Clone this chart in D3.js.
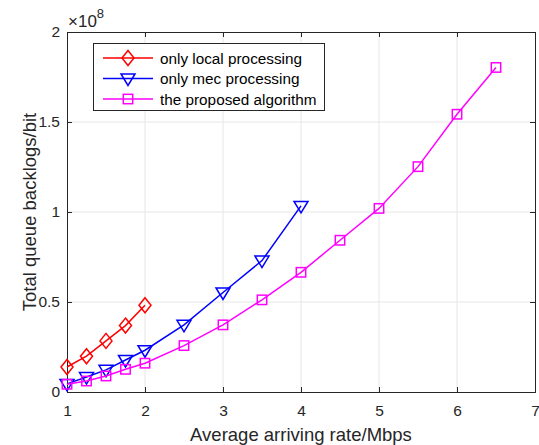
<!DOCTYPE html>
<html>
<head>
<meta charset="utf-8">
<script src="https://cdn.jsdelivr.net/npm/d3@7"></script>
<style>
  html, body { margin: 0; padding: 0; background: #fff; }
  svg { display: block; font-family: "Liberation Sans", Arial, Helvetica, sans-serif; }
</style>
</head>
<body>
<svg id="chart" width="539" height="445"></svg>
<script>
// Arrival rates (Mbps) for each scheme
const xLocal = [1, 1.25, 1.5, 1.75, 2];
const xMec = [1, 1.25, 1.5, 1.75, 2, 2.5, 3, 3.5, 4];
const xProposed = [1, 1.25, 1.5, 1.75, 2, 2.5, 3, 3.5, 4, 4.5, 5, 5.5, 6, 6.5];

// Total queue backlogs (units of 1e8 bit)
const yLocal = [0.139, 0.199, 0.284, 0.369, 0.482];
const yMec = [0.045, 0.083, 0.123, 0.178, 0.232, 0.373, 0.553, 0.730, 1.034];
const yProposed = [0.043, 0.061, 0.089, 0.126, 0.160, 0.258, 0.373, 0.512, 0.665, 0.843, 1.020, 1.252, 1.543, 1.803];

const seriesNames = ["only local processing", "only mec processing", "the proposed algorithm"];
const xTicks = [1, 2, 3, 4, 5, 6, 7];
const yTicks = [0, 0.5, 1, 1.5, 2];
const yTickLabels = ["0", "0.5", "1", "1.5", "2"];

const colors = ["#ff0000", "#0000ff", "#ff00ff"];
const markers = ["diamond", "triangle", "square"];

const svg = d3.select("#chart");
const plotLeft = 67, plotRight = 535, plotTop = 32, plotBottom = 392;

const x = d3.scaleLinear().domain([1, 7]).range([plotLeft, plotRight]);
const y = d3.scaleLinear().domain([0, 2]).range([plotBottom, plotTop]);

const axisColor = "#262626";
const gridColor = "#e6e6e6";

// grid
const grid = svg.append("g");
grid.selectAll("line.gx").data(xTicks.slice(1, -1)).join("line")
  .attr("x1", d => x(d)).attr("x2", d => x(d))
  .attr("y1", plotTop).attr("y2", plotBottom)
  .attr("stroke", gridColor).attr("stroke-width", 1);
grid.selectAll("line.gy").data(yTicks.slice(1, -1)).join("line")
  .attr("x1", plotLeft).attr("x2", plotRight)
  .attr("y1", d => y(d)).attr("y2", d => y(d))
  .attr("stroke", gridColor).attr("stroke-width", 1);

// axes (ticks inside, box on all sides)
const tickLen = 5;
const fontSize = 15.5;

const xAxis = d3.axisBottom(x).tickValues(xTicks).tickSize(-tickLen).tickPadding(13).tickFormat(d3.format("d"));
const gx = svg.append("g").attr("transform", `translate(0,${plotBottom})`).call(xAxis);
const xAxisTop = d3.axisTop(x).tickValues(xTicks).tickSize(-tickLen).tickFormat("");
const gxt = svg.append("g").attr("transform", `translate(0,${plotTop})`).call(xAxisTop);

const yAxis = d3.axisLeft(y).tickValues(yTicks).tickSize(-tickLen).tickPadding(7)
  .tickFormat((d, i) => yTickLabels[i]);
const gy = svg.append("g").attr("transform", `translate(${plotLeft},0)`).call(yAxis);
const yAxisRight = d3.axisRight(y).tickValues(yTicks).tickSize(-tickLen).tickFormat("");
const gyr = svg.append("g").attr("transform", `translate(${plotRight},0)`).call(yAxisRight);

[gx, gxt, gy, gyr].forEach(g => {
  g.selectAll("path.domain").attr("stroke", axisColor).attr("stroke-width", 1);
  g.selectAll(".tick line").attr("stroke", axisColor).attr("stroke-width", 1);
  g.selectAll(".tick text").attr("fill", axisColor).style("font-size", fontSize + "px")
    .style("font-family", "'Liberation Sans', Arial, sans-serif");
});

// exponent label
const expo = svg.append("text").attr("x", plotLeft + 1).attr("y", 27)
  .attr("fill", axisColor).style("font-size", "17px");
expo.append("tspan").text("\u00d710");
expo.append("tspan").attr("dy", -9).style("font-size", "13px").text("8");

// axis titles
svg.append("text").attr("x", (plotLeft + plotRight) / 2).attr("y", 441)
  .attr("text-anchor", "middle").attr("fill", axisColor).style("font-size", "18.5px")
  .text("Average arriving rate/Mbps");
svg.append("text").attr("transform", `translate(36,${(plotTop + plotBottom) / 2}) rotate(-90)`)
  .attr("text-anchor", "middle").attr("fill", axisColor).style("font-size", "18.5px")
  .text("Total queue backlogs/bit");

// marker drawing
function drawMarker(g, type, cx, cy, color) {
  if (type === "diamond") {
    g.append("path").attr("d", `M${cx},${cy - 7.5}L${cx + 6},${cy}L${cx},${cy + 7.5}L${cx - 6},${cy}Z`)
      .attr("fill", "none").attr("stroke", color).attr("stroke-width", 1.5);
  } else if (type === "triangle") {
    g.append("path").attr("d", `M${cx - 7},${cy - 4.5}L${cx + 7},${cy - 4.5}L${cx},${cy + 7}Z`)
      .attr("fill", "none").attr("stroke", color).attr("stroke-width", 1.5);
  } else {
    g.append("rect").attr("x", cx - 4.7).attr("y", cy - 4.7).attr("width", 9.4).attr("height", 9.4)
      .attr("fill", "none").attr("stroke", color).attr("stroke-width", 1.5);
  }
}

const series = [
  { xs: xLocal, ys: yLocal },
  { xs: xMec, ys: yMec },
  { xs: xProposed, ys: yProposed }
];

const line = d3.line().x(d => x(d[0])).y(d => y(d[1]));
const plot = svg.append("g");
series.forEach((s, i) => {
  const pts = s.xs.map((v, j) => [v, s.ys[j]]);
  const g = plot.append("g");
  g.append("path").attr("d", line(pts)).attr("fill", "none")
    .attr("stroke", colors[i]).attr("stroke-width", 1.5);
  pts.forEach(p => drawMarker(g, markers[i], x(p[0]), y(p[1]), colors[i]));
});

// legend
const lg = svg.append("g");
lg.append("rect").attr("x", 93.5).attr("y", 43.5).attr("width", 231).attr("height", 67)
  .attr("fill", "#fff").attr("stroke", axisColor).attr("stroke-width", 1);
seriesNames.forEach((name, i) => {
  const ry = 58 + i * 20.5;
  lg.append("line").attr("x1", 103).attr("x2", 153).attr("y1", ry).attr("y2", ry)
    .attr("stroke", colors[i]).attr("stroke-width", 1.5);
  drawMarker(lg, markers[i], 128, ry, colors[i]);
  lg.append("text").attr("x", 160).attr("y", ry + 5.5).attr("fill", "#000")
    .style("font-size", "15.3px").text(name);
});
</script>
</body>
</html>
